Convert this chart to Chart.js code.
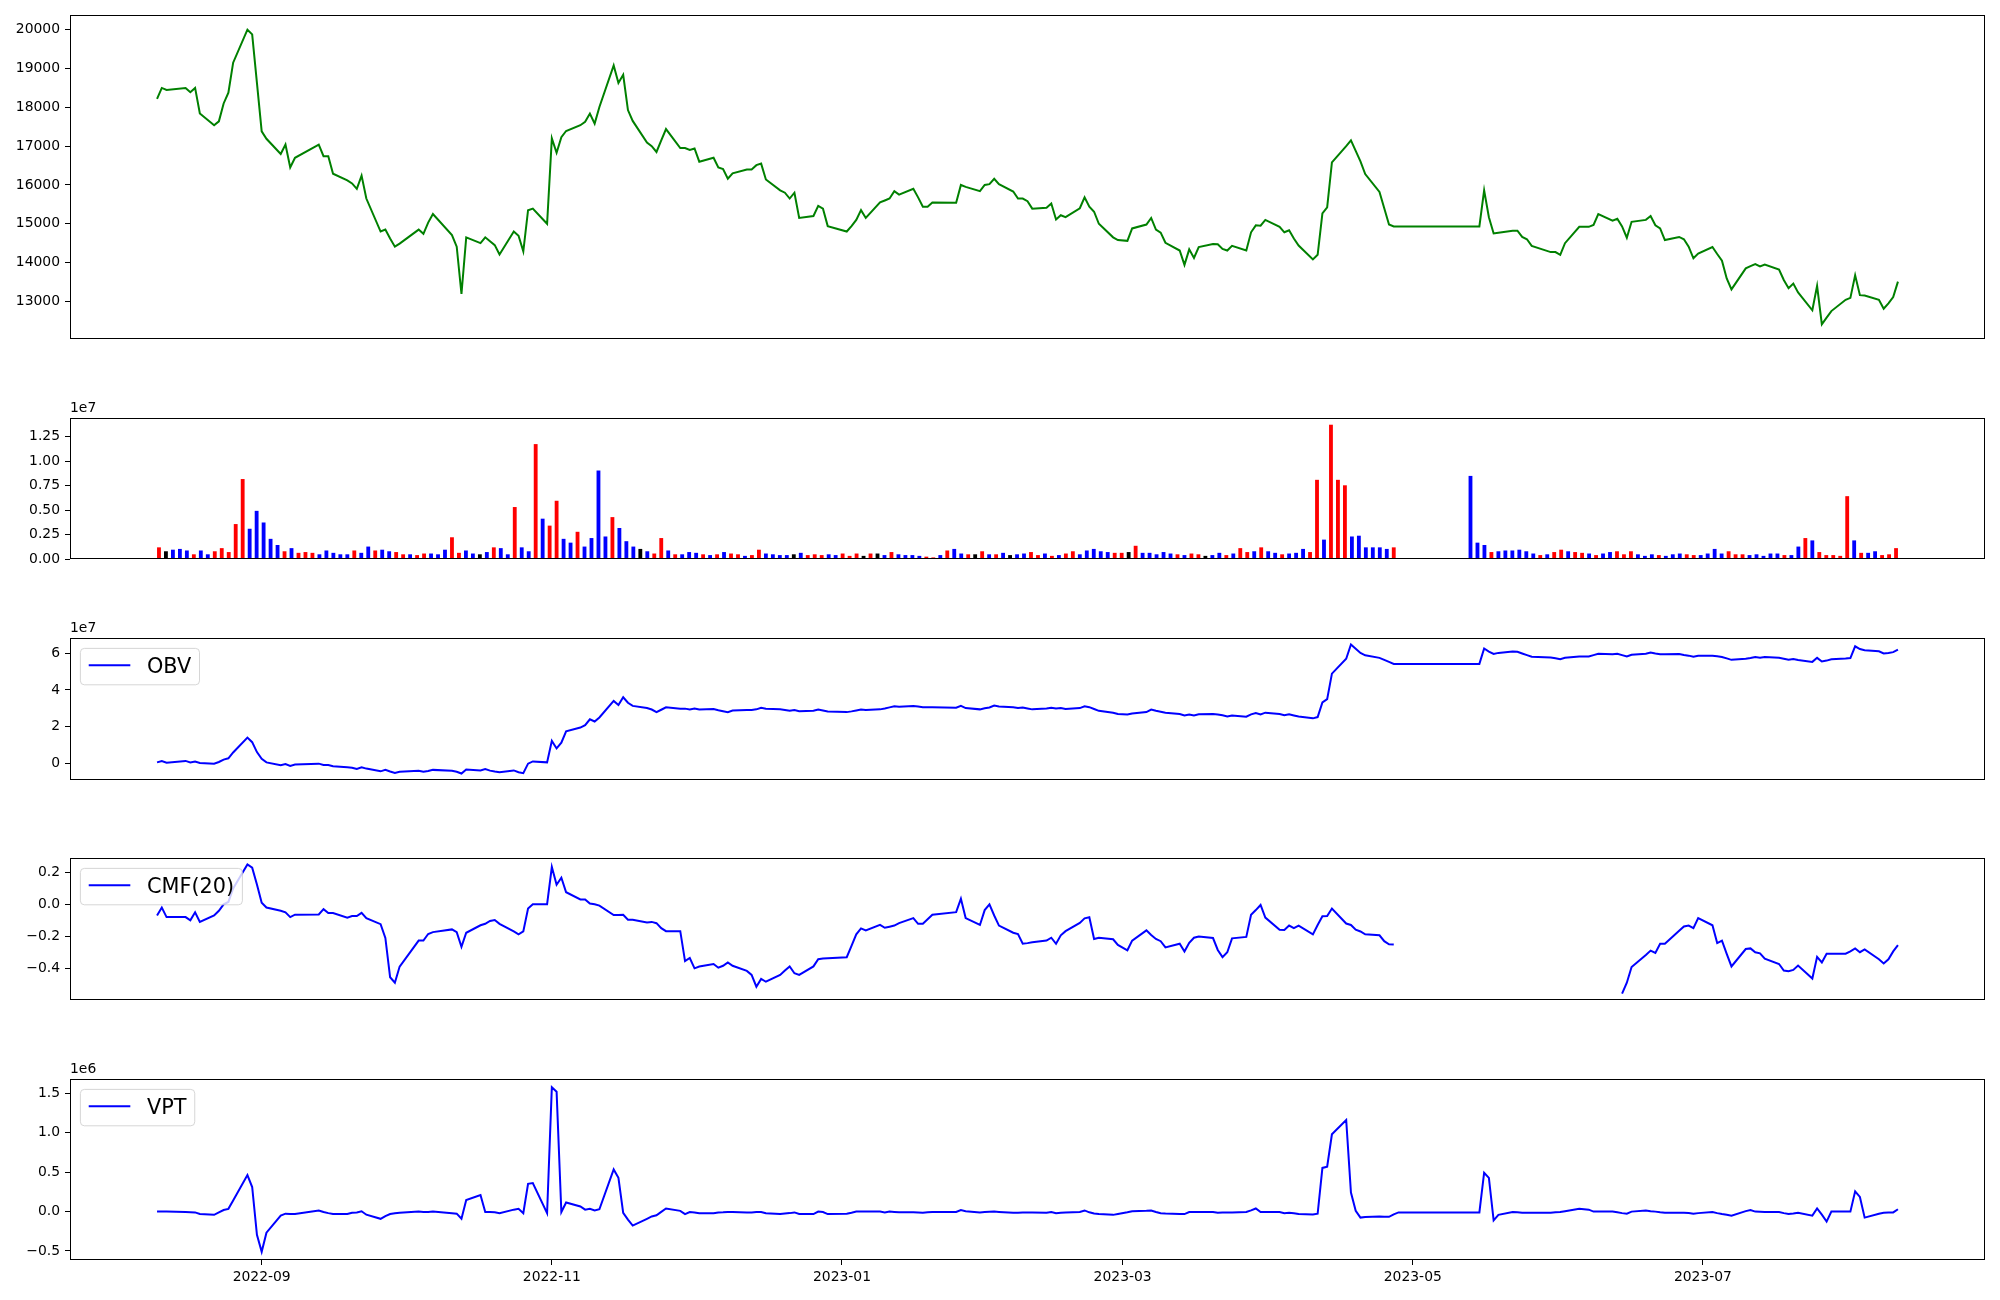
<!DOCTYPE html>
<html>
<head>
<meta charset="utf-8">
<script src="https://cdn.jsdelivr.net/npm/chart.js@4.4.1/dist/chart.umd.min.js"></script>
<style>
  body { margin: 0; background: #fff; }
  #wrap { position: relative; width: 2000px; height: 1300px; }
  #wrap canvas { position: absolute; left: 0; }
</style>
</head>
<body>
<div id="wrap"></div>
<script>
// ---- data -------------------------------------------------------------
// KRX trading calendar: weekdays from firstDay to lastDay minus market holidays
const firstDay = '2022-08-10';
const lastDay = '2023-08-11';
const holidays = ['2022-08-15', '2022-09-09', '2022-09-12', '2022-10-03', '2022-10-10',
  '2022-12-30', '2023-01-23', '2023-01-24', '2023-03-01', '2023-05-01', '2023-05-05',
  '2023-05-29', '2023-06-06'];
const monthTicks = ['2022-09', '2022-11', '2023-01', '2023-03', '2023-05', '2023-07'];

const closePrice = [
  18220, 18500, 18450, 18500, 18390, 18500, 17840, 17540, 17640, 18100, 18380, 19150, 20000, 19880, 18630,
  17380, 17190, 16800, 17040, 16450, 16700, 17040, 16740, 16740, 16290, 16120, 16040, 15900, 16240, 15650, 14800, 14850, 14620, 14410, 14490,
  14850, 14740, 15030, 15250, 14710, 14410, 13190, 14650, 14500, 14650, 14550, 14450, 14210, 14800, 14690, 14290, 15350, 15390, 15000,
  17200, 16830, 17230, 17390, 17540, 17630, 17840, 17580, 18010, 19080, 18630, 18840, 17930, 17650, 17090, 17000, 16850, 17150, 17440, 16950, 16950, 16900,
  16940, 16600, 16700, 16450, 16410, 16160, 16300, 16400, 16400, 16510, 16550, 16140, 15860, 15800, 15650, 15800, 15150, 15200, 15460, 15390, 14940,
  14800, 14940, 15100, 15350, 15150, 15550, 15600, 15650, 15840, 15750, 15900, 15680, 15440, 15440, 15550, 15540, 16000, 15950, 15840, 16000,
  16020, 16160, 16020, 15830, 15650, 15650, 15580, 15390, 15410, 15520, 15110, 15220, 15170, 15400, 15680, 15440, 15310, 15000, 14650, 14580,
  14560, 14880, 14980, 15150, 14850, 14770, 14510, 14310, 13940, 14340, 14120, 14400, 14480, 14470, 14350, 14310, 14430, 14310, 14780, 14960, 14950, 15100,
  14920, 14780, 14830, 14620, 14440, 14080, 14200, 15270, 15420, 16580, 17000, 17150, 16880, 16610, 16280, 15820, 15400, 14980, 14930, 14930,
  14930, 14930, 14930, 14930, 14930, 14930, 14930, 14930, 14930, 15860, 15170, 14750, 14770, 14820, 14820, 14660, 14600, 14430, 14270, 14270,
  14200, 14500, 14920, 14920, 14970, 15250, 15080, 15130, 14930, 14640, 15050, 15100, 15200, 14960, 14880, 14580, 14660, 14600, 14410, 14110, 14230,
  14400, 14220, 14050, 13590, 13310, 13850, 13910, 13960, 13900, 13950, 13820, 13550, 13340, 13460, 13230, 12770, 13400, 12410, 12580, 12750, 13040,
  13090, 13670, 13160, 13150, 13040, 12810, 12950, 13110, 13510
];

// volume in millions of shares
const volumeMln = [
  1.19, 0.79, 0.95, 1.03, 0.87, 0.48, 0.87, 0.48, 0.79, 1.11,
  0.71, 3.57, 8.17, 3.09, 4.92, 3.73, 2.06, 1.43, 0.79, 1.11,
  0.63, 0.71, 0.63, 0.48, 0.87, 0.63, 0.48, 0.48, 0.87, 0.63,
  1.27, 0.87, 0.95, 0.79, 0.71, 0.48, 0.48, 0.40, 0.56, 0.56,
  0.48, 0.95, 2.22, 0.63, 0.87, 0.56, 0.48, 0.71, 1.19, 1.11,
  0.48, 5.31, 1.19, 0.79, 11.74, 4.12, 3.41, 5.95, 2.06, 1.67,
  2.78, 1.27, 2.14, 9.04, 2.30, 4.28, 3.17, 1.82, 1.27, 1.03,
  0.79, 0.56, 2.14, 0.87, 0.48, 0.48, 0.71, 0.63, 0.48, 0.40,
  0.48, 0.71, 0.56, 0.48, 0.32, 0.40, 0.95, 0.56, 0.48, 0.40,
  0.40, 0.48, 0.63, 0.40, 0.48, 0.40, 0.48, 0.40, 0.56, 0.32,
  0.56, 0.32, 0.56, 0.56, 0.40, 0.71, 0.48, 0.40, 0.40, 0.32,
  0.24, 0.16, 0.40, 0.87, 1.03, 0.56, 0.48, 0.48, 0.79, 0.48,
  0.48, 0.63, 0.40, 0.48, 0.56, 0.71, 0.40, 0.56, 0.32, 0.40,
  0.56, 0.79, 0.48, 0.87, 1.03, 0.79, 0.71, 0.63, 0.63, 0.71,
  1.35, 0.63, 0.63, 0.48, 0.71, 0.56, 0.48, 0.40, 0.56, 0.48,
  0.32, 0.40, 0.63, 0.40, 0.56, 1.11, 0.71, 0.79, 1.19, 0.79,
  0.63, 0.48, 0.56, 0.63, 1.03, 0.71, 8.09, 1.98, 13.72, 8.09,
  7.53, 2.30, 2.38, 1.19, 1.19, 1.19, 1.03, 1.19, 0, 0,
  0, 0, 0, 0, 0, 0, 0, 0, 8.49, 1.67,
  1.43, 0.71, 0.79, 0.87, 0.87, 0.95, 0.79, 0.56, 0.40, 0.48,
  0.71, 0.95, 0.79, 0.71, 0.63, 0.56, 0.40, 0.56, 0.71, 0.79,
  0.48, 0.79, 0.48, 0.32, 0.48, 0.40, 0.32, 0.48, 0.56, 0.48,
  0.40, 0.40, 0.56, 1.03, 0.56, 0.79, 0.48, 0.48, 0.40, 0.48,
  0.32, 0.56, 0.56, 0.40, 0.40, 1.27, 2.14, 1.90, 0.71, 0.40,
  0.40, 0.32, 6.42, 1.90, 0.63, 0.63, 0.79, 0.40, 0.48, 1.11
];

// candle body per session: u = close above open, d = close below open, f = flat
const candle = [
  'ufdddudduu', 'uuudddddud', 'uuudddddud', 'dudduuduud', 'dduuddfdud',
  'dudduduudd', 'uddddudddf', 'duududddud', 'uduuduuddd', 'dfduuudduu',
  'ufufdudddd', 'uududdufud', 'udfdduudud', 'uuddddduuf', 'uddddduduu',
  'fdduduudud', 'duddduuduu', 'udddddduff', 'ffffffffdd', 'duddddddud',
  'uuduududdu', 'uudddudddu', 'udddduuudd', 'dddudduduu', 'uuududduuu'
].join('');

// on-balance volume, millions
const obvMln = [
  0.5, 1.2, 0.3, 1.3, 0.5, 1.0, 0.2, -0.2, 0.7, 2.0, 2.7, 5.9, 14.0, 11.5, 6.1,
  2.4, 0.5, -1.0, -0.4, -1.4, -0.7, -0.2, -0.9, -1.0, -1.6, -2.2, -2.4, -3.1, -2.2, -2.9, -4.4, -3.6, -4.5, -5.3, -4.6,
  -4.1, -4.6, -4.2, -3.6, -4.1, -4.6, -5.6, -3.4, -3.9, -3.2, -4.0, -4.5, -4.9, -3.9, -4.9, -5.4, -0.2, 1.0, 0.5,
  12.2, 8.1, 11.2, 17.4, 19.5, 20.8, 24.0, 22.8, 25.0, 34.0, 31.8, 36.0, 33.0, 31.3, 30.1, 29.3, 27.9, 29.2, 30.5, 29.8, 29.8, 29.4,
  29.9, 29.3, 29.6, 28.9, 28.4, 27.9, 28.8, 29.0, 29.1, 29.4, 30.3, 29.8, 29.4, 29.1, 28.6, 29.1, 28.4, 28.6, 29.3, 28.8, 28.3,
  27.9, 28.3, 28.8, 29.3, 29.1, 29.4, 29.9, 30.5, 31.1, 30.8, 31.3, 31.0, 30.6, 30.6, 30.6, 30.3, 31.3, 30.1, 29.4, 30.0,
  30.4, 31.5, 31.0, 30.6, 30.1, 30.4, 29.9, 29.4, 29.9, 30.3, 29.9, 30.1, 29.6, 30.1, 31.1, 30.6, 29.6, 28.6, 27.6, 26.9,
  26.6, 27.2, 27.9, 29.3, 28.6, 28.1, 27.6, 26.9, 26.1, 26.6, 26.1, 26.7, 26.9, 26.6, 26.2, 25.5, 26.1, 25.4, 26.7, 27.4, 26.6, 27.6,
  26.9, 26.2, 26.7, 26.1, 25.5, 24.5, 25.2, 33.2, 35.0, 48.9, 57.0, 64.8, 62.5, 60.2, 58.9, 57.5, 56.4, 55.3, 54.2, 54.2,
  54.2, 54.2, 54.2, 54.2, 54.2, 54.2, 54.2, 54.2, 54.2, 62.6, 60.9, 59.6, 60.2, 60.9, 60.8, 59.9, 59.0, 58.1, 57.7, 57.3,
  56.7, 57.5, 58.2, 58.2, 59.0, 59.7, 59.4, 59.7, 59.0, 58.2, 59.2, 59.7, 60.4, 59.9, 59.5, 59.4, 59.6, 59.0, 58.7, 58.1, 58.6,
  58.7, 58.4, 58.0, 57.2, 56.4, 57.0, 57.4, 57.9, 57.5, 57.9, 57.5, 57.0, 56.5, 56.9, 56.3, 55.3, 57.5, 55.5, 56.0, 56.7, 57.1,
  57.4, 63.8, 62.3, 61.7, 61.1, 59.9, 60.2, 60.6, 62.0
];

// Chaikin money flow, 20 sessions (null where undefined)
const cmf20 = [
  -0.07, -0.02, -0.08, -0.08, -0.10, -0.05, -0.11, -0.07, -0.04, 0.00, 0.015, 0.10, 0.25, 0.23, 0.125,
  0.01, -0.02, -0.04, -0.05, -0.08, -0.065, -0.063, -0.03, -0.055, -0.055, -0.083, -0.073, -0.073, -0.053, -0.086, -0.124, -0.21, -0.457, -0.491, -0.39,
  -0.227, -0.227, -0.186, -0.174, -0.157, -0.174, -0.266, -0.178, -0.131, -0.122, -0.104, -0.098, -0.122, -0.17, -0.188, -0.17, -0.026, 0.00, 0.00,
  0.234, 0.123, 0.167, 0.076, 0.031, 0.031, 0.005, 0.001, -0.008, -0.067, -0.067, -0.065, -0.096, -0.096, -0.114, -0.11, -0.118, -0.149, -0.168, -0.168, -0.356, -0.336,
  -0.401, -0.39, -0.374, -0.397, -0.385, -0.364, -0.385, -0.417, -0.442, -0.516, -0.467, -0.485, -0.442, -0.415, -0.389, -0.432, -0.442, -0.389, -0.344, -0.340, -0.338,
  -0.331, -0.26, -0.188, -0.151, -0.163, -0.129, -0.147, -0.140, -0.133, -0.118, -0.086, -0.122, -0.122, -0.094, -0.065, -0.049, 0.035, -0.086, -0.129, -0.036,
  0.000, -0.07, -0.133, -0.178, -0.186, -0.247, -0.243, -0.238, -0.227, -0.209, -0.247, -0.194, -0.168, -0.116, -0.088, -0.081, -0.217, -0.209, -0.219, -0.254,
  -0.288, -0.227, -0.163, -0.192, -0.217, -0.231, -0.270, -0.247, -0.295, -0.241, -0.209, -0.202, -0.211, -0.286, -0.331, -0.300, -0.213, -0.204, -0.065, -0.036, -0.004, -0.083,
  -0.159, -0.161, -0.133, -0.149, -0.133, -0.188, -0.129, -0.075, -0.073, -0.026, -0.120, -0.129, -0.159, -0.17, -0.188, -0.194, -0.231, -0.250, -0.252, null,
  null, null, null, null, null, null, null, null, null, null, null, null, null, null, null, null, null, null, null, null,
  null, null, null, null, null, null, null, null, -0.559, -0.491, -0.393, -0.317, -0.290, -0.305, -0.247, -0.247, -0.166, -0.139, -0.133, -0.149, -0.086,
  -0.131, -0.243, -0.227, -0.31, -0.389, -0.280, -0.276, -0.300, -0.307, -0.340, -0.374, -0.415, -0.419, -0.411, -0.384, -0.465, -0.329, -0.364, -0.309, -0.309, -0.309,
  -0.295, -0.276, -0.300, -0.282, -0.344, -0.370, -0.344, -0.295, -0.256
];

// volume price trend, millions
const vptMln = [
  0.00, 0.00, 0.00, -0.005, -0.008, -0.011, -0.032, -0.042, -0.011, 0.019, 0.034, 0.14, 0.462, 0.311, -0.294,
  -0.510, -0.268, -0.052, -0.027, -0.03, -0.032, 0.014, -0.006, -0.02, -0.032, -0.032, -0.016, -0.011, 0.004, -0.04, -0.092, -0.057, -0.032, -0.021, -0.016,
  -0.001, -0.006, -0.006, -0.001, -0.021, -0.027, -0.092, 0.145, 0.210, -0.006, -0.006, -0.01, -0.021, 0.024, 0.034, -0.021, 0.351, 0.361, -0.021,
  1.576, 1.520, -0.006, 0.114, 0.064, 0.024, 0.034, 0.014, 0.029, 0.533, 0.427, -0.016, -0.102, -0.178, -0.092, -0.062, -0.047, -0.005, 0.039, 0.009, -0.032, -0.006,
  -0.011, -0.021, -0.021, -0.011, -0.01, -0.006, -0.005, -0.011, -0.011, -0.006, -0.006, -0.021, -0.032, -0.025, -0.02, -0.011, -0.032, -0.032, -0.001, -0.006, -0.032,
  -0.027, -0.015, -0.001, -0.001, -0.001, -0.001, -0.011, -0.001, -0.005, -0.01, -0.01, -0.012, -0.016, -0.01, -0.006, -0.006, 0.019, 0.005, -0.011, -0.005,
  -0.003, -0.001, -0.005, -0.016, -0.014, -0.012, -0.011, -0.012, -0.016, -0.006, -0.021, -0.015, -0.011, -0.006, 0.014, -0.01, -0.025, -0.032, -0.042, -0.03,
  -0.01, 0.004, 0.01, 0.014, -0.005, -0.021, -0.025, -0.03, -0.032, -0.006, -0.006, -0.006, -0.006, -0.016, -0.013, -0.012, -0.011, -0.006, 0.015, 0.039, -0.006, -0.006,
  -0.006, -0.021, -0.016, -0.022, -0.032, -0.037, -0.027, 0.553, 0.568, 0.98, 1.16, 0.24, 0.009, -0.077, -0.07, -0.062, -0.065, -0.067, -0.035, -0.011,
  -0.011, -0.011, -0.011, -0.011, -0.011, -0.011, -0.011, -0.011, -0.011, 0.492, 0.427, -0.112, -0.042, -0.006, -0.01, -0.016, -0.016, -0.016, -0.016, -0.01,
  -0.006, 0.005, 0.034, 0.024, -0.001, -0.001, -0.001, -0.01, -0.02, -0.027, -0.001, 0.014, 0.005, -0.001, -0.01, -0.016, -0.016, -0.016, -0.02, -0.027, -0.02,
  -0.006, -0.02, -0.032, -0.042, -0.052, 0.005, 0.019, -0.001, -0.003, -0.005, -0.006, -0.02, -0.032, -0.025, -0.016, -0.052, 0.039, -0.04, -0.127, -0.001, -0.001,
  -0.001, 0.256, 0.185, -0.077, -0.027, -0.016, -0.012, -0.011, 0.029
];

// ---- helpers ----------------------------------------------------------
const DAY = 86400000;
function dayNum(s) {
  const p = s.split('-').map(Number);
  return Date.UTC(p[0], p[1] - 1, p[2] || 1) / DAY;
}
const holidaySet = new Set(holidays.map(dayNum));
const tradingDays = [];
for (let t = dayNum(firstDay); t <= dayNum(lastDay); t++) {
  const wd = new Date(t * DAY).getUTCDay();
  if (wd === 0 || wd === 6 || holidaySet.has(t)) continue;
  tradingDays.push(t);
}

// matplotlib style 5% margins
function padRange(vals, stickZero) {
  const v = vals.filter(x => x !== null);
  const lo = Math.min(...v), hi = Math.max(...v), m = (hi - lo) * 0.05;
  return { min: stickZero ? 0 : lo - m, max: hi + m };
}
const dayRange = padRange(tradingDays);
const barWidth = 0.55;
const nBars = volumeMln.length;
const idxPad = 0.05 * (nBars - 1 + barWidth);
const idxRange = { min: -barWidth / 2 - idxPad, max: nBars - 1 + barWidth / 2 + idxPad };

const minus = s => s.replace('-', '\u2212');
const FONT = 'DejaVu Sans';
Chart.defaults.font.family = FONT;
Chart.defaults.font.size = 13.9;
Chart.defaults.color = '#000';

// frame, offset text and matplotlib-like legend box
const frameDeco = {
  id: 'frameDeco',
  afterDatasetsDraw(chart, args, opts) {
    if (!opts.legend) return;
    const ctx = chart.ctx, a = chart.chartArea;
    const fs = 20.8;
    ctx.save();
    ctx.font = fs + 'px "' + FONT + '"';
    const tw = ctx.measureText(opts.legend).width;
    const x0 = a.left + 0.5 * fs, y0 = a.top + 0.5 * fs;
    const w = 3.6 * fs + tw, h = 1.75 * fs;
    ctx.beginPath();
    ctx.roundRect(x0, y0, w, h, 4);
    ctx.fillStyle = 'rgba(255,255,255,0.8)';
    ctx.fill();
    ctx.strokeStyle = 'rgba(204,204,204,0.8)';
    ctx.lineWidth = 1;
    ctx.stroke();
    ctx.beginPath();
    ctx.moveTo(x0 + 0.4 * fs, y0 + 0.81 * fs);
    ctx.lineTo(x0 + 2.4 * fs, y0 + 0.81 * fs);
    ctx.strokeStyle = opts.color;
    ctx.lineWidth = 2;
    ctx.stroke();
    ctx.fillStyle = '#000';
    ctx.textBaseline = 'alphabetic';
    ctx.fillText(opts.legend, x0 + 3.2 * fs, y0 + 1.2 * fs);
    ctx.restore();
  },
  afterDraw(chart, args, opts) {
    const ctx = chart.ctx, a = chart.chartArea;
    ctx.save();
    ctx.strokeStyle = '#000';
    ctx.lineWidth = 1;
    ctx.strokeRect(Math.round(a.left) + 0.5, Math.round(a.top) + 0.5,
      Math.round(a.right - a.left) - 1, Math.round(a.bottom - a.top) - 1);
    if (opts.offset) {
      ctx.font = '13.9px "' + FONT + '"';
      ctx.fillStyle = '#000';
      ctx.textBaseline = 'bottom';
      ctx.fillText(opts.offset, a.left, a.top - 3);
    }
    ctx.restore();
  }
};

const wrap = document.getElementById('wrap');

function stepTicks(step) {
  return s => {
    const out = [];
    for (let k = Math.ceil(s.min / step - 1e-9); k * step <= s.max + 1e-9; k++) out.push({ value: k * step });
    s.ticks = out;
  };
}

function panel(cfg) {
  const padTop = 30;
  const canvas = document.createElement('canvas');
  const top = cfg.top - padTop;
  const bottom = cfg.xAxis ? 1300 : cfg.bottom + 10;
  canvas.width = 2000;
  canvas.height = bottom - top;
  canvas.style.top = top + 'px';
  wrap.appendChild(canvas);

  const xScale = {
    type: 'linear',
    min: cfg.xRange.min,
    max: cfg.xRange.max,
    offset: false,
    display: !!cfg.xAxis,
    border: { display: false },
    grid: { offset: false, drawOnChartArea: false, drawTicks: true, tickLength: 5, color: '#000' },
    afterFit(s) { s.height = 40; }
  };
  if (cfg.xAxis) {
    xScale.afterBuildTicks = s => { s.ticks = monthTicks.map(m => ({ value: dayNum(m) })); };
    xScale.ticks = {
      padding: 4, maxRotation: 0, autoSkip: false,
      callback: v => {
        const d = new Date(v * DAY);
        return d.getUTCFullYear() + '-' + String(d.getUTCMonth() + 1).padStart(2, '0');
      }
    };
  }

  return new Chart(canvas, {
    type: cfg.type,
    data: { datasets: cfg.datasets },
    options: {
      responsive: false,
      animation: false,
      devicePixelRatio: 1,
      layout: { padding: { left: 0, right: 15, top: padTop, bottom: cfg.xAxis ? 0 : 10 } },
      plugins: {
        legend: { display: false },
        tooltip: { enabled: false },
        frameDeco: { legend: cfg.legend, color: 'blue', offset: cfg.offset }
      },
      scales: {
        x: xScale,
        y: {
          min: cfg.yRange.min,
          max: cfg.yRange.max,
          border: { display: false },
          grid: { drawOnChartArea: false, drawTicks: true, tickLength: 5, color: '#000' },
          afterBuildTicks: stepTicks(cfg.step),
          ticks: { padding: 5, autoSkip: false, callback: cfg.fmt },
          afterFit(s) { s.width = 70; }
        }
      }
    },
    plugins: [frameDeco]
  });
}

function series(vals) {
  return vals.map((v, i) => ({ x: tradingDays[i], y: v }));
}
function lineSet(vals, color) {
  return {
    type: 'line', data: series(vals), borderColor: color, borderWidth: 2,
    pointRadius: 0, tension: 0, spanGaps: false, fill: false
  };
}

const candleColor = { u: 'red', d: 'blue', f: 'black' };

// price
panel({
  type: 'line', top: 15, bottom: 379, xRange: dayRange,
  yRange: padRange(closePrice), step: 1000, fmt: v => String(Math.round(v)),
  datasets: [lineSet(closePrice, 'green')]
});

// volume bars, one slot per trading session
panel({
  type: 'bar', top: 418, bottom: 599, xRange: idxRange,
  yRange: padRange(volumeMln, true), step: 2.5, fmt: v => (v / 10).toFixed(2), offset: '1e7',
  datasets: [{
    data: volumeMln.map((v, i) => ({ x: i, y: v })),
    backgroundColor: volumeMln.map((v, i) => candleColor[candle[i]] || 'black'),
    borderWidth: 0, barPercentage: barWidth, categoryPercentage: 1
  }]
});

// OBV
panel({
  type: 'line', top: 638, bottom: 820, xRange: dayRange,
  yRange: padRange(obvMln), step: 20, fmt: v => minus((v / 10).toFixed(0)), offset: '1e7',
  legend: 'OBV', datasets: [lineSet(obvMln, 'blue')]
});

// CMF
panel({
  type: 'line', top: 858, bottom: 1040, xRange: dayRange,
  yRange: padRange(cmf20), step: 0.2, fmt: v => minus(v.toFixed(1)),
  legend: 'CMF(20)', datasets: [lineSet(cmf20, 'blue')]
});

// VPT
panel({
  type: 'line', top: 1079, bottom: 1260, xRange: dayRange, xAxis: true,
  yRange: padRange(vptMln), step: 0.5, fmt: v => minus(v.toFixed(1)), offset: '1e6',
  legend: 'VPT', datasets: [lineSet(vptMln, 'blue')]
});
</script>
</body>
</html>
